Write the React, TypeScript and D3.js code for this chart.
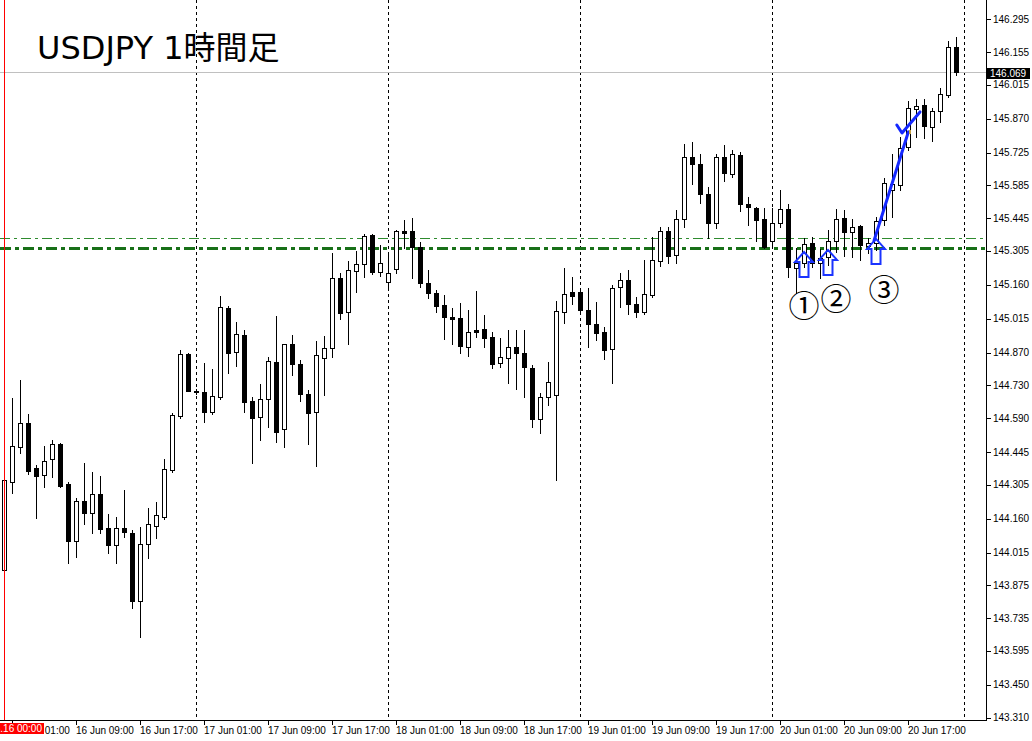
import React from 'react';
import * as d3 from 'd3';

const W = 1032;
const H = 741;

// USDJPY H1, 16 Jun 00:00 .. 20 Jun 23:00
const open = [
  143.941, 144.317, 144.466, 144.569, 144.377, 144.347, 144.415, 144.479, 144.308, 144.065,
  144.236, 144.184, 144.266, 144.120, 144.047, 144.120, 144.099, 143.808, 144.052, 144.129,
  144.167, 144.368, 144.599, 144.864, 144.704, 144.702, 144.616, 144.680, 145.061, 144.873,
  144.945, 144.663, 144.595, 144.672, 144.830, 144.543, 144.907, 144.821, 144.693, 144.616,
  144.847, 144.890, 145.189, 145.044, 145.219, 145.249, 145.373, 145.215, 145.172, 145.227,
  145.390, 145.390, 145.322, 145.168, 145.125, 145.074, 145.022, 145.018, 144.894, 144.967,
  144.971, 144.937, 144.826, 144.847, 144.894, 144.868, 144.804, 144.586, 144.680, 144.689,
  145.044, 145.129, 145.129, 145.052, 144.992, 144.958, 144.885, 145.151, 145.180, 145.078,
  145.044, 145.116, 145.262, 145.390, 145.287, 145.441, 145.706, 145.676, 145.548, 145.424,
  145.706, 145.634, 145.715, 145.505, 145.488, 145.441, 145.347, 145.424, 145.484, 145.232,
  145.253, 145.339, 145.253, 145.279, 145.347, 145.445, 145.386, 145.411, 145.326, 145.339,
  145.437, 145.565, 145.587, 145.749, 145.912, 145.929, 145.835, 145.903, 145.971, 146.177,
];
const high = [
  144.334, 144.676, 144.753, 144.608, 144.390, 144.471, 144.496, 144.484, 144.317, 144.248,
  144.398, 144.360, 144.343, 144.180, 144.167, 144.283, 144.112, 144.124, 144.206, 144.231,
  144.415, 144.612, 144.881, 144.868, 144.714, 144.826, 144.800, 145.112, 145.069, 145.001,
  144.967, 144.680, 144.736, 144.851, 145.027, 144.907, 144.945, 144.838, 144.710, 144.920,
  144.941, 145.296, 145.210, 145.262, 145.304, 145.377, 145.377, 145.330, 145.287, 145.394,
  145.437, 145.445, 145.343, 145.223, 145.138, 145.116, 145.061, 145.082, 145.052, 145.133,
  145.031, 144.958, 144.932, 144.967, 144.967, 144.967, 144.817, 144.697, 144.830, 145.091,
  145.232, 145.193, 145.133, 145.146, 145.086, 144.980, 145.159, 145.210, 145.223, 145.108,
  145.266, 145.364, 145.407, 145.407, 145.480, 145.762, 145.770, 145.719, 145.578, 145.719,
  145.758, 145.736, 145.728, 145.535, 145.493, 145.488, 145.488, 145.565, 145.505, 145.317,
  145.360, 145.364, 145.313, 145.394, 145.484, 145.480, 145.441, 145.416, 145.360, 145.450,
  145.617, 145.719, 145.792, 145.946, 145.954, 145.954, 145.916, 146.001, 146.202, 146.219,
];
const low = [
  143.932, 144.270, 144.441, 144.351, 144.163, 144.296, 144.338, 144.296, 143.971, 143.996,
  144.137, 144.099, 144.099, 144.013, 143.971, 144.082, 143.778, 143.654, 143.992, 144.077,
  144.159, 144.360, 144.590, 144.706, 144.693, 144.573, 144.608, 144.672, 144.783, 144.813,
  144.616, 144.398, 144.496, 144.552, 144.488, 144.466, 144.774, 144.663, 144.479, 144.385,
  144.689, 144.851, 145.014, 144.907, 145.129, 145.193, 145.206, 145.198, 145.138, 145.210,
  145.317, 145.189, 145.151, 145.103, 145.044, 144.928, 144.907, 144.868, 144.856, 144.937,
  144.894, 144.804, 144.808, 144.740, 144.714, 144.680, 144.552, 144.526, 144.646, 144.325,
  144.997, 145.078, 145.048, 144.894, 144.924, 144.843, 144.740, 145.065, 145.035, 145.022,
  145.035, 145.108, 145.240, 145.253, 145.253, 145.407, 145.591, 145.510, 145.360, 145.403,
  145.604, 145.621, 145.475, 145.416, 145.347, 145.317, 145.322, 145.407, 145.193, 145.125,
  145.236, 145.236, 145.189, 145.245, 145.300, 145.283, 145.279, 145.266, 145.296, 145.309,
  145.416, 145.450, 145.565, 145.736, 145.792, 145.788, 145.775, 145.856, 145.963, 146.057,
];
const close = [
  144.325, 144.471, 144.569, 144.364, 144.343, 144.407, 144.479, 144.300, 144.065, 144.236,
  144.184, 144.266, 144.116, 144.047, 144.120, 144.103, 143.808, 144.052, 144.137, 144.176,
  144.372, 144.603, 144.864, 144.706, 144.702, 144.616, 144.684, 145.065, 144.868, 144.950,
  144.659, 144.590, 144.672, 144.834, 144.531, 144.907, 144.821, 144.693, 144.612, 144.860,
  144.890, 145.189, 145.039, 145.223, 145.249, 145.369, 145.215, 145.253, 145.210, 145.390,
  145.381, 145.322, 145.168, 145.125, 145.069, 145.022, 145.014, 144.898, 144.958, 144.958,
  144.932, 144.821, 144.851, 144.894, 144.868, 144.808, 144.586, 144.680, 144.744, 145.048,
  145.120, 145.112, 145.052, 144.992, 144.954, 144.881, 145.146, 145.180, 145.078, 145.044,
  145.120, 145.266, 145.390, 145.283, 145.441, 145.706, 145.676, 145.548, 145.424, 145.706,
  145.638, 145.719, 145.505, 145.493, 145.437, 145.322, 145.424, 145.484, 145.236, 145.253,
  145.334, 145.253, 145.274, 145.347, 145.441, 145.386, 145.407, 145.330, 145.339, 145.433,
  145.595, 145.591, 145.745, 145.916, 145.924, 145.839, 145.903, 145.976, 146.177, 146.069,
];

const priceTickLabels = [
  '146.295', '146.155', '146.015', '145.870', '145.725', '145.585', '145.445', '145.305',
  '145.160', '145.015', '144.870', '144.730', '144.590', '144.445', '144.305', '144.160',
  '144.015', '143.875', '143.735', '143.595', '143.450', '143.310',
];

const bidPrice = 146.069;
const levelThin = 145.359;
const levelThick = 145.318;

// annotations: bar index + price
const arrowMarks = [
  { bar: 100, price: 145.300 },
  { bar: 103, price: 145.309 },
  { bar: 109, price: 145.356 },
];
const circledLabels = [
  { bar: 100, price: 145.080, text: '①' },
  { bar: 104, price: 145.112, text: '②' },
  { bar: 110, price: 145.150, text: '③' },
];
const trendLine = [
  { bar: 108.75, price: 145.348 },
  { bar: 113.05, price: 145.814 },
];
const checkMark = [
  { bar: 111.6, price: 145.843 },
  { bar: 112.25, price: 145.809 },
  { bar: 114.5, price: 145.899 },
];

const start = new Date(2023, 5, 16, 0, 0);
const end = new Date(2023, 5, 21, 0, 0);

const PLOT_R = 986;
const PLOT_B = 720;

const AX_FONT = "Tahoma, 'Liberation Sans', Arial, sans-serif";

export default function App() {
  const x = d3.scaleTime().domain([start, end]).range([4, 964]);
  const y = d3.scaleLinear().domain([143.310, 146.295]).range([717.5, 19.3]);
  const barTime = (b: number) => new Date(start.getTime() + b * 3600e3);
  const bx = (b: number) => x(barTime(b));

  const candles = open.map((o, i) => ({
    t: d3.timeHour.offset(start, i),
    o,
    h: high[i],
    l: low[i],
    c: close[i],
  }));

  const daySeps = d3.timeDay.range(d3.timeDay.offset(start, 1), d3.timeDay.offset(end, 1));
  const timeTicks = d3.range(0, 15).map((k) => d3.timeHour.offset(start, 1 + 8 * k));
  const fmt = d3.timeFormat('%d %b %H:%M');

  const line = d3
    .line<{ bar: number; price: number }>()
    .x((d) => bx(d.bar))
    .y((d) => y(d.price));

  const arrowPath = (tx: number, ty: number) => {
    const hw = 9, hh = 10, sw = 4.5, tot = 25;
    return `M${tx},${ty} L${tx + hw},${ty + hh} L${tx + sw},${ty + hh} L${tx + sw},${ty + tot} L${tx - sw},${ty + tot} L${tx - sw},${ty + hh} L${tx - hw},${ty + hh} Z`;
  };

  return (
    <svg
      width={W}
      height={H}
      viewBox={`0 0 ${W} ${H}`}
      style={{ position: 'absolute', left: 0, top: 0, background: '#fff' }}
    >
      <defs>
        <clipPath id="afterRedLabel">
          <rect x={44} y={700} width={W} height={41} />
        </clipPath>
      </defs>
      <rect x={0} y={0} width={W} height={H} fill="#fff" />

      {/* title */}
      <text
        x={37}
        y={59}
        fontFamily="'DejaVu Sans', 'Noto Sans CJK JP', sans-serif"
        fontSize={32}
        fill="#000"
      >
        USDJPY 1時間足
      </text>

      {/* period separators, bid line, levels */}
      <g shapeRendering="crispEdges">
        {daySeps.map((d, i) => (
          <line
            key={i}
            x1={Math.round(x(d)) + 0.5}
            x2={Math.round(x(d)) + 0.5}
            y1={0}
            y2={PLOT_B}
            stroke="#000"
            strokeDasharray="3,3"
          />
        ))}
        <line
          x1={0}
          x2={PLOT_R}
          y1={Math.round(y(bidPrice)) + 0.5}
          y2={Math.round(y(bidPrice)) + 0.5}
          stroke="#c0c0c0"
        />
        <line
          x1={0}
          x2={PLOT_R}
          y1={Math.round(y(levelThin)) + 0.5}
          y2={Math.round(y(levelThin)) + 0.5}
          stroke="#2e8b2e"
          strokeDasharray="10,4,3,4"
        />
        <line
          x1={0}
          x2={PLOT_R}
          y1={Math.round(y(levelThick))}
          y2={Math.round(y(levelThick))}
          stroke="#187018"
          strokeWidth={3}
          strokeDasharray="11,4,4,4"
        />
      </g>

      {/* candles */}
      <g shapeRendering="crispEdges">
        {candles.map((d, i) => {
          const cx = Math.round(x(d.t));
          const yo = Math.round(y(d.o));
          const yc = Math.round(y(d.c));
          const yh = Math.round(y(d.h));
          const yl = Math.round(y(d.l));
          const top = Math.min(yo, yc);
          const bot = Math.max(yo, yc);
          const up = d.c > d.o;
          return (
            <g key={i}>
              <line x1={cx + 0.5} x2={cx + 0.5} y1={yh} y2={yl + 1} stroke="#000" />
              {bot - top < 1 ? (
                <line x1={cx - 2} x2={cx + 3} y1={top + 0.5} y2={top + 0.5} stroke="#000" />
              ) : up ? (
                <rect x={cx - 1.5} y={top + 0.5} width={4} height={bot - top} fill="#fff" stroke="#000" />
              ) : (
                <rect x={cx - 2} y={top} width={5} height={bot - top + 1} fill="#000" />
              )}
            </g>
          );
        })}
      </g>

      {/* red vertical line */}
      <line
        x1={Math.round(x(start)) + 0.5}
        x2={Math.round(x(start)) + 0.5}
        y1={0}
        y2={PLOT_B}
        stroke="#ff0000"
        shapeRendering="crispEdges"
      />

      {/* annotations */}
      {arrowMarks.map((a, i) => (
        <path
          key={i}
          d={arrowPath(bx(a.bar), y(a.price))}
          fill="none"
          stroke="#1a33ff"
          strokeWidth={2}
          strokeLinejoin="miter"
        />
      ))}
      <path d={line(trendLine) || ''} fill="none" stroke="#1428ff" strokeWidth={3} strokeLinecap="round" />
      <path
        d={line(checkMark) || ''}
        fill="none"
        stroke="#1428ff"
        strokeWidth={3}
        strokeLinecap="round"
        strokeLinejoin="round"
      />
      <rect x={bx(113.25) - 1} y={y(145.813) - 2} width={2} height={4} fill="#c8a040" />
      {circledLabels.map((c, i) => (
        <text
          key={i}
          x={bx(c.bar)}
          y={y(c.price)}
          textAnchor="middle"
          dominantBaseline="central"
          fontFamily="'Noto Sans CJK JP', sans-serif"
          fontSize={31}
          fill="#000"
        >
          {c.text}
        </text>
      ))}

      {/* axes */}
      <g shapeRendering="crispEdges">
        <line x1={PLOT_R + 0.5} x2={PLOT_R + 0.5} y1={0} y2={PLOT_B + 1} stroke="#000" />
        <line x1={0} x2={PLOT_R + 1} y1={PLOT_B + 0.5} y2={PLOT_B + 0.5} stroke="#000" />
        {priceTickLabels.map((s, i) => {
          const yy = Math.round(y(+s)) + 0.5;
          return <line key={i} x1={PLOT_R} x2={PLOT_R + 5} y1={yy} y2={yy} stroke="#000" />;
        })}
        {timeTicks.map((t, i) => {
          const xx = Math.round(x(t)) + 0.5;
          return <line key={i} x1={xx} x2={xx} y1={PLOT_B} y2={PLOT_B + 5} stroke="#000" />;
        })}
      </g>
      {priceTickLabels.map((s, i) => (
        <text
          key={i}
          x={993}
          y={y(+s)}
          dominantBaseline="central"
          fontFamily={AX_FONT}
          fontSize={10}
          fill="#000"
        >
          {s}
        </text>
      ))}
      {timeTicks.map((t, i) => (
        <text
          key={i}
          x={x(t)}
          y={734}
          fontFamily={AX_FONT}
          fontSize={10}
          fill="#000"
          clipPath={i === 0 ? 'url(#afterRedLabel)' : undefined}
        >
          {fmt(t)}
        </text>
      ))}

      {/* bid label */}
      <rect x={987} y={Math.round(y(bidPrice)) - 4} width={43} height={11} fill="#000" />
      <text
        x={990}
        y={y(bidPrice) + 1}
        dominantBaseline="central"
        fontFamily={AX_FONT}
        fontSize={10}
        fill="#fff"
      >
        {bidPrice.toFixed(3)}
      </text>

      {/* red time label (vertical line object) */}
      <rect x={0} y={723} width={44} height={11} fill="#ff0000" />
      <text x={42} y={732} textAnchor="end" fontFamily={AX_FONT} fontSize={10} fill="#fff">
        {d3.timeFormat('%Y.%m.%d %H:%M')(start)}
      </text>
    </svg>
  );
}
